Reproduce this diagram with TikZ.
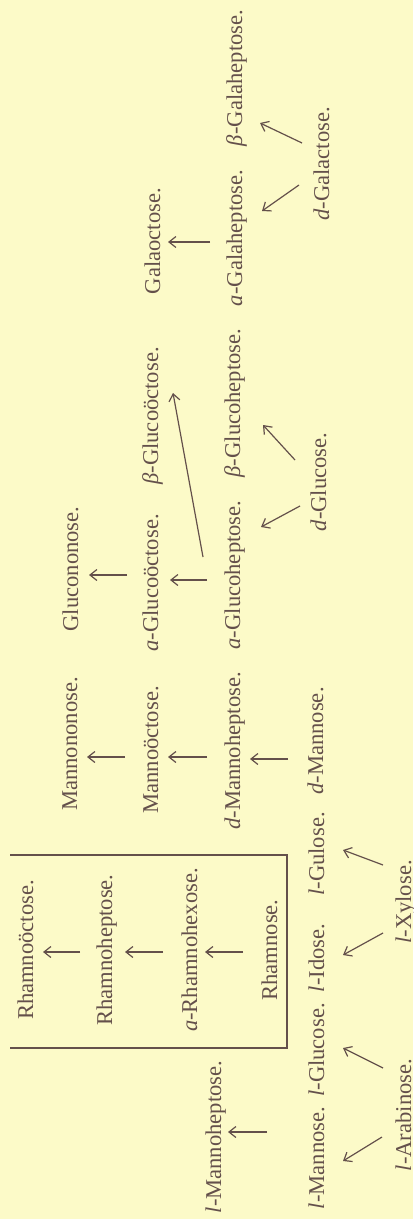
\documentclass[tikz,border=0pt]{standalone}
\usepackage{fontspec}
\setmainfont{Liberation Serif}
\usetikzlibrary{arrows.meta,calc}
\definecolor{paper}{RGB}{252,250,200}
\definecolor{ink}{RGB}{100,80,75}
\begin{document}
\begin{tikzpicture}[x=0.5pt,y=-0.5pt,
  lbl/.style={rotate=90,anchor=base,inner sep=0pt,text=ink,font=\fontsize{11.3}{13}\selectfont},
  arr/.style={draw=ink,line width=0.6pt,-{Straight Barb[length=3.5pt,width=5.5pt]}},
  frame/.style={draw=ink,line width=0.9pt}]
\fill[paper] (0,0) rectangle (413,1219);
\useasboundingbox (0,0) rectangle (413,1219);
% Rhamnose group
\node[lbl] (rocto) at (33,950) {Rhamnoöctose.};
\node[lbl] (rhept) at (112,950) {Rhamnoheptose.};
\node[lbl] (rhex) at (197,950) {\textit{a}-Rhamnohexose.};
\node[lbl] (rham) at (277,950) {Rhamnose.};
% l-series
\node[lbl] (lmh) at (221,1137) {\textit{l}-Mannoheptose.};
\node[lbl] (lman) at (324,1158) {\textit{l}-Mannose.};
\node[lbl] (lglc) at (324,1050) {\textit{l}-Glucose.};
\node[lbl] (lido) at (324,958) {\textit{l}-Idose.};
\node[lbl] (lgul) at (324,854) {\textit{l}-Gulose.};
\node[lbl] (lara) at (411,1115) {\textit{l}-Arabinose.};
\node[lbl] (lxyl) at (411,902) {\textit{l}-Xylose.};
% Mannose series
\node[lbl] (dman) at (323,741) {\textit{d}-Mannose.};
\node[lbl] (mnon) at (77,744) {Mannononose.};
\node[lbl] (moct) at (158,750) {Mannoöctose.};
\node[lbl] (mhep) at (240,751) {\textit{d}-Mannoheptose.};
% Glucose series
\node[lbl] (gnon) at (78,569) {Glucononose.};
\node[lbl] (agoct) at (158,583) {\textit{a}-Glucoöctose.};
\node[lbl] (aghep) at (240,575) {\textit{a}-Glucoheptose.};
\node[lbl] (bgoct) at (158,416) {\textit{β}-Glucoöctose.};
\node[lbl] (bghep) at (240,403) {\textit{β}-Glucoheptose.};
\node[lbl] (dglc) at (326,482) {\textit{d}-Glucose.};
% Galactose series
\node[lbl] (gaoct) at (160,241) {Galaoctose.};
\node[lbl] (aghp) at (242,238) {\textit{a}-Galaheptose.};
\node[lbl] (bghp) at (242,78) {\textit{β}-Galaheptose.};
\node[lbl] (dgal) at (329,164) {\textit{d}-Galactose.};
% bracket round the rhamnose group
\draw[frame] (10,855) -- (287,855) -- (287,1048) -- (10,1048);
% arrows
\draw[arr] ($(rham.base)+(-34,2)$) -- ($(rhex.base)+(8,2)$);
\draw[arr] ($(rhex.base)+(-34,2)$) -- ($(rhept.base)+(13,2)$);
\draw[arr] ($(rhept.base)+(-32,2)$) -- ($(rocto.base)+(10,2)$);
\draw[arr] ($(lman.base)+(-57,-26)$) -- ($(lmh.base)+(7,-5)$);
\draw[arr] ($(lara.base)+(-29,22)$) -- ($(lman.base)+(19,3)$);
\draw[arr] ($(lara.base)+(-28,-47)$) -- ($(lglc.base)+(19,-2)$);
\draw[arr] ($(lxyl.base)+(-28,31)$) -- ($(lido.base)+(19,-3)$);
\draw[arr] ($(lxyl.base)+(-28,-37)$) -- ($(lgul.base)+(19,-4)$);
\draw[arr] ($(dman.base)+(-35,18)$) -- ($(mhep.base)+(10,8)$);
\draw[arr] ($(mhep.base)+(-33,6)$) -- ($(moct.base)+(10,7)$);
\draw[arr] ($(moct.base)+(-33,7)$) -- ($(mnon.base)+(10,13)$);
\draw[arr] ($(aghep.base)+(-33,5)$) -- ($(agoct.base)+(12,-3)$);
\draw[arr] ($(agoct.base)+(-31,-8)$) -- ($(gnon.base)+(11,6)$);
\draw[arr] ($(aghep.base)+(-37,-18)$) -- ($(bgoct.base)+(15,-23)$);
\draw[arr] ($(dglc.base)+(-26,24)$) -- ($(aghep.base)+(21,-48)$);
\draw[arr] ($(dglc.base)+(-31,-22)$) -- ($(bghep.base)+(23,22)$);
\draw[arr] ($(aghp.base)+(-32,4)$) -- ($(gaoct.base)+(8,1)$);
\draw[arr] ($(dgal.base)+(-30,21)$) -- ($(aghp.base)+(20,-27)$);
\draw[arr] ($(dgal.base)+(-27,-21)$) -- ($(bghp.base)+(18,45)$);
\end{tikzpicture}
\end{document}
